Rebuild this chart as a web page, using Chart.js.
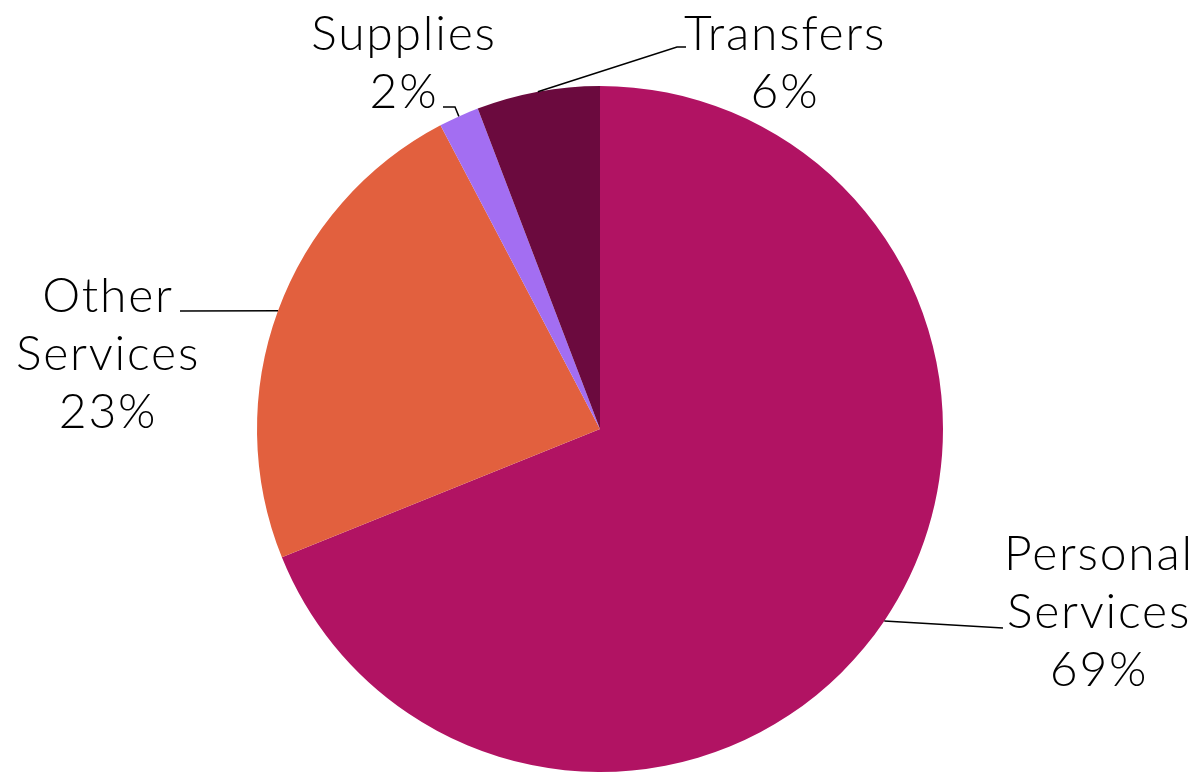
<!DOCTYPE html>
<html>
<head>
<meta charset="utf-8">
<script src="https://cdn.jsdelivr.net/npm/chart.js@4.4.0/dist/chart.umd.min.js"></script>
<style>
  html, body { margin: 0; padding: 0; background: #fff; }
  canvas { display: block; }
</style>
</head>
<body>
<canvas id="pie" width="1202" height="772"></canvas>
<script>
const categories = ["Personal Services", "Other Services", "Supplies", "Transfers"];
const shares = [68.9, 23.4, 1.9, 5.8];
const percentLabels = ["69%", "23%", "2%", "6%"];
const labelLines = [["Personal", "Services"], ["Other", "Services"], ["Supplies"], ["Transfers"]];

const sliceColors = ["#B11363", "#E2603E", "#A36EF2", "#6B0A3E"];

// where each label sits, and the bend of its leader line
const labelLayout = [
  { x: 1099, y: 570, leader: [[1003, 628]] },
  { x: 108, y: 312, leader: [[180, 311]] },
  { x: 404, y: 50, leader: [[455, 107], [443, 107]] },
  { x: 785, y: 50, leader: [[677, 47], [686, 47]] }
];

const lineHeight = 58;
const labelFont = "300 48px Lato";

const outsideLabels = {
  id: "outsideLabels",
  afterDatasetsDraw(chart) {
    const ctx = chart.ctx;
    const arcs = chart.getDatasetMeta(0).data;
    ctx.save();
    arcs.forEach(function(arc, i) {
      const p = arc.getProps(["x", "y", "startAngle", "endAngle", "outerRadius"], true);
      const mid = (p.startAngle + p.endAngle) / 2;
      const ax = p.x + Math.cos(mid) * p.outerRadius;
      const ay = p.y + Math.sin(mid) * p.outerRadius;
      const lay = labelLayout[i];

      ctx.strokeStyle = "#000";
      ctx.lineWidth = 1.5;
      ctx.beginPath();
      ctx.moveTo(ax, ay);
      lay.leader.forEach(function(pt) {
        ctx.lineTo(pt[0], pt[1]);
      });
      ctx.stroke();

      ctx.fillStyle = "#000";
      ctx.font = labelFont;
      ctx.letterSpacing = "1.8px";
      ctx.textAlign = "center";
      ctx.textBaseline = "alphabetic";
      const lines = labelLines[i].concat([percentLabels[i]]);
      lines.forEach(function(txt, k) {
        ctx.fillText(txt, lay.x, lay.y + k * lineHeight);
      });
    });
    ctx.restore();
  }
};

new Chart(document.getElementById("pie").getContext("2d"), {
  type: "pie",
  data: {
    labels: categories,
    datasets: [
      {
        data: shares,
        backgroundColor: sliceColors,
        borderWidth: 0
      }
    ]
  },
  options: {
    responsive: false,
    animation: false,
    devicePixelRatio: 1,
    layout: { padding: { top: 86, bottom: 0, left: 0, right: 2 } },
    plugins: {
      legend: { display: false },
      tooltip: { enabled: false }
    }
  },
  plugins: [outsideLabels]
});
</script>
</body>
</html>
